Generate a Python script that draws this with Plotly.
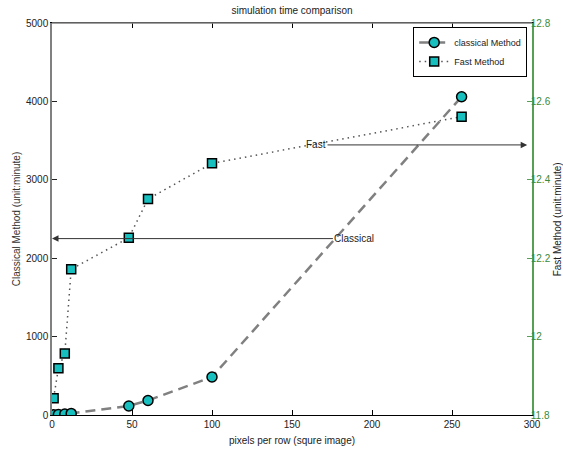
import plotly.graph_objects as go

# data
pixels = [1, 4, 8, 12, 48, 60, 100, 256]
classical_time = [2, 6, 12, 20, 115, 185, 485, 4060]
fast_time = [11.843, 11.919, 11.957, 12.172, 12.252, 12.351, 12.442, 12.561]

x_ticks = [0, 50, 100, 150, 200, 250, 300]
left_ticks = [0, 1000, 2000, 3000, 4000, 5000]
right_ticks = [11.8, 12.0, 12.2, 12.4, 12.6, 12.8]

FONT = "Liberation Sans, Arial, sans-serif"
CYAN = "#17bfbf"
GREEN = "#55a055"
GREEN_TXT = "#3b8a3b"

fig = go.Figure()
fig.add_trace(go.Scatter(
    x=pixels, y=classical_time, name="classical Method", mode="lines+markers",
    line=dict(color="#808080", width=2.5, dash="10px,6px"),
    marker=dict(symbol="circle", size=10, color=CYAN, line=dict(color="black", width=1.5)),
    yaxis="y",
))
fig.add_trace(go.Scatter(
    x=pixels, y=fast_time, name="Fast Method", mode="lines+markers",
    line=dict(color="#555555", width=1.5, dash="1.5px,4px"),
    marker=dict(symbol="square", size=9, color=CYAN, line=dict(color="black", width=1.5)),
    yaxis="y2",
))

fig.update_layout(
    width=563, height=452,
    margin=dict(l=52, r=31, t=23, b=37),
    paper_bgcolor="white", plot_bgcolor="white",
    font=dict(family=FONT, size=10, color="#222222"),
    title=dict(text="simulation time comparison", x=(52 + 532) / 2 / 563, xanchor="center",
               y=1 - 10 / 452, yanchor="middle", font=dict(size=10, color="#222222")),
    xaxis=dict(range=[0, 300], tickvals=x_ticks, ticks="inside", ticklen=5, tickcolor="black",
               showline=True, linecolor="black", linewidth=1.2, mirror="ticks",
               showgrid=False, zeroline=False, automargin=False,
               title=dict(text="pixels per row (squre image)", standoff=7, font=dict(size=10))),
    yaxis=dict(range=[0, 5000], tickvals=left_ticks, tickformat="d", ticks="inside", ticklen=5,
               tickcolor="#222222", showline=True, linecolor="#808080", linewidth=1.5,
               showgrid=False, zeroline=False, automargin=False,
               title=dict(text="Classical Method (unit:minute)", standoff=4,
                          font=dict(size=10, color="#333333"))),
    yaxis2=dict(range=[11.8, 12.8], tickvals=right_ticks, ticktext=["11.8", "12", "12.2", "12.4", "12.6", "12.8"],
                overlaying="y", side="right", ticks="inside", ticklen=5, tickcolor=GREEN,
                showline=True, linecolor=GREEN, linewidth=1.5, showgrid=False, zeroline=False,
                automargin=False, ticklabelstandoff=-5,
                tickfont=dict(color=GREEN_TXT, size=10)),
    legend=dict(x=0.99, y=0.99, xanchor="right", yanchor="top", bgcolor="white",
                bordercolor="black", borderwidth=1, font=dict(size=9, color="#222222"),
                itemwidth=30, tracegroupgap=0),
    showlegend=True,
)

# gray top border
fig.add_shape(type="line", xref="paper", yref="paper", x0=0, x1=1, y0=1, y1=1,
              line=dict(color="#808080", width=1.5), layer="above")

# right axis title
fig.add_annotation(text="Fast Method (unit:minute)", xref="paper", yref="paper",
                   x=1.0527, y=0.5, xanchor="center", yanchor="middle",
                   showarrow=False, textangle=-90,
                   font=dict(size=10, color="#222222"))

# arrows
fig.add_annotation(text="Classical", x=0, y=2250, xref="x", yref="y",
                   ax=189, ay=2250, axref="x", ayref="y", showarrow=True,
                   arrowhead=2, arrowsize=1.3, arrowwidth=1, arrowcolor="#333333",
                   font=dict(size=10, color="#222222"), standoff=0, startstandoff=0)
fig.add_annotation(text="Fast", x=297, y=12.489, xref="x", yref="y2",
                   ax=165, ay=12.489, axref="x", ayref="y2", showarrow=True,
                   arrowhead=2, arrowsize=1.3, arrowwidth=1, arrowcolor="#333333",
                   font=dict(size=10, color="#222222"), standoff=0, startstandoff=0)

fig.write_html("out.html", post_script="document.body.style.margin='0';",
               config={"displayModeBar": False})
